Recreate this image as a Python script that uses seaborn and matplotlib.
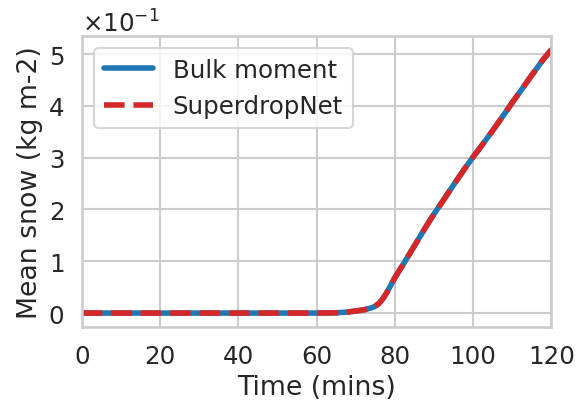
import numpy as np
import pandas as pd
import matplotlib
matplotlib.use("Agg")
import matplotlib.pyplot as plt
import seaborn as sns

# values (time in mins, mean snow in kg m-2)
time = [0, 10, 20, 30, 40, 50, 60, 65, 68, 70, 72, 73, 74, 75, 76, 77, 78, 79,
        80, 82, 84, 86, 88, 90, 92, 95, 98, 100, 102, 105, 108, 110, 112, 115,
        118, 120]
bulk = [0.0, 0.0, 0.0, 0.0, 0.0, 0.0, 0.0, 0.0005, 0.002, 0.004, 0.006, 0.008,
        0.010, 0.013, 0.019, 0.028, 0.040, 0.054, 0.068, 0.092, 0.117, 0.142,
        0.167, 0.191, 0.213, 0.247, 0.280, 0.301, 0.321, 0.352, 0.384, 0.406,
        0.427, 0.459, 0.490, 0.508]
sdnet = [0.0, 0.0, 0.0, 0.0, 0.0, 0.0, 0.0, 0.0005, 0.002, 0.004, 0.006, 0.008,
         0.010, 0.013, 0.019, 0.028, 0.040, 0.054, 0.068, 0.092, 0.117, 0.142,
         0.167, 0.191, 0.213, 0.247, 0.280, 0.301, 0.321, 0.352, 0.384, 0.406,
         0.427, 0.459, 0.490, 0.508]

sns.set_theme(style="whitegrid", context="talk", font_scale=1.07)

fig, ax = plt.subplots(figsize=(5.76, 4.06), dpi=100)
fig.subplots_adjust(left=0.142, right=0.957, top=0.909, bottom=0.192)

sns.lineplot(x=time, y=bulk, ax=ax, color="tab:blue", linewidth=4,
             label="Bulk moment")
sns.lineplot(x=time, y=sdnet, ax=ax, color="tab:red", linewidth=4,
             linestyle="--", label="SuperdropNet")

ax.set_xlim(0, 120)
ax.set_ylim(-0.027, 0.535)
ax.set_xticks([0, 20, 40, 60, 80, 100, 120])
ax.set_yticks([0, 0.1, 0.2, 0.3, 0.4, 0.5])
ax.ticklabel_format(axis="y", style="sci", scilimits=(-1, -1), useMathText=True)
ax.set_xlabel("Time (mins)")
ax.set_ylabel("Mean snow (kg m-2)")
ax.legend(loc="upper left")

fig.savefig("out.png", dpi=100)
